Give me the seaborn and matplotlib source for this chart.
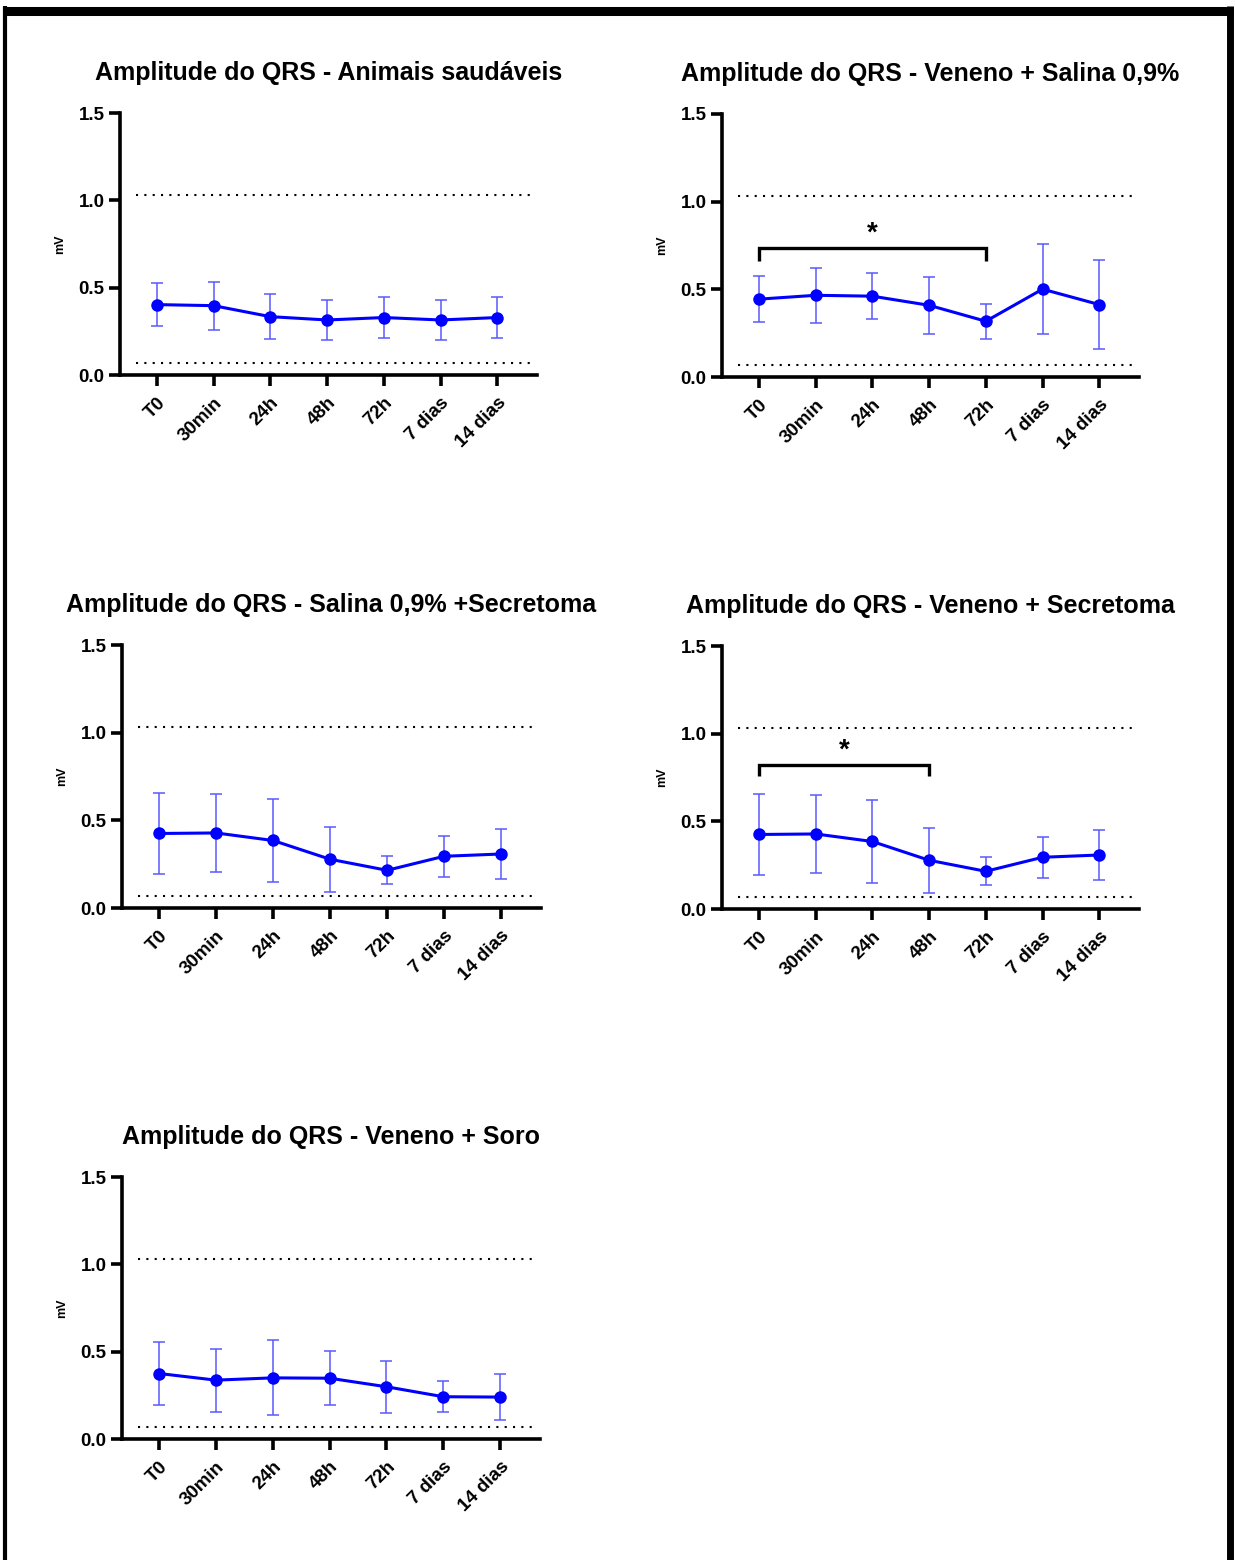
import matplotlib
matplotlib.use('Agg')
import matplotlib.pyplot as plt
import seaborn as sns
import pandas as pd
from matplotlib.lines import Line2D

# --- DATA ---
tempos = ['T0', '30min', '24h', '48h', '72h', '7 dias', '14 dias']

saudaveis_media = [0.403, 0.397, 0.334, 0.315, 0.329, 0.315, 0.329]
saudaveis_dp = [0.121, 0.137, 0.127, 0.112, 0.116, 0.112, 0.116]

veneno_salina_media = [0.444, 0.466, 0.461, 0.409, 0.318, 0.501, 0.413]
veneno_salina_dp = [0.130, 0.157, 0.130, 0.162, 0.099, 0.256, 0.256]

salina_secretoma_media = [0.425, 0.428, 0.385, 0.278, 0.215, 0.295, 0.308]
salina_secretoma_dp = [0.232, 0.225, 0.235, 0.184, 0.079, 0.118, 0.140]

veneno_secretoma_media = [0.425, 0.428, 0.385, 0.278, 0.215, 0.295, 0.308]
veneno_secretoma_dp = [0.232, 0.225, 0.235, 0.184, 0.079, 0.118, 0.140]

veneno_soro_media = [0.375, 0.337, 0.350, 0.348, 0.299, 0.242, 0.240]
veneno_soro_dp = [0.180, 0.180, 0.214, 0.155, 0.148, 0.090, 0.130]

titulos = [
    'Amplitude do QRS - Animais saudáveis',
    'Amplitude do QRS - Veneno + Salina 0,9%',
    'Amplitude do QRS - Salina 0,9% +Secretoma',
    'Amplitude do QRS - Veneno + Secretoma',
    'Amplitude do QRS - Veneno + Soro',
]

# reference band (dotted lines)
limite_superior = 1.03
limite_inferior = 0.07

# significance brackets: panel index -> (start idx, end idx, bar height, drop)
brackets = {1: (0, 4, 0.737, 0.66), 3: (0, 3, 0.822, 0.756)}
# ---------------------------------

sns.set_theme(style='white')
plt.rcParams['font.family'] = ['Liberation Sans', 'DejaVu Sans']
plt.rcParams['font.weight'] = 'bold'
plt.rcParams.update({'text.color': 'black', 'axes.labelcolor': 'black',
                     'xtick.color': 'black', 'ytick.color': 'black'})

W, H = 1235, 1560
fig = plt.figure(figsize=(W / 100, H / 100), dpi=100)


def px_axes(left, right, y0, y15):
    return fig.add_axes([left / W, 1 - y0 / H, (right - left) / W, (y0 - y15) / H])


caixas = [
    (120, 537, 375, 113),
    (722, 1139, 377, 114),
    (122, 541, 908, 645),
    (722, 1139, 909, 646),
    (122, 540, 1439, 1177),
]
grupos = [
    (saudaveis_media, saudaveis_dp),
    (veneno_salina_media, veneno_salina_dp),
    (salina_secretoma_media, salina_secretoma_dp),
    (veneno_secretoma_media, veneno_secretoma_dp),
    (veneno_soro_media, veneno_soro_dp),
]

for i, (caixa, (media, dp), titulo) in enumerate(zip(caixas, grupos, titulos)):
    ax = px_axes(*caixa)
    df = pd.DataFrame({'tempo': tempos, 'media': media, 'dp': dp})
    pos = list(range(len(tempos)))

    ax.errorbar(pos, df['media'], yerr=df['dp'], fmt='none', ecolor='#5a5aff',
                elinewidth=1.1, capsize=4.5, capthick=1.1, zorder=2)
    sns.lineplot(data=df, x='tempo', y='media', ax=ax, color='#0000ff',
                 marker='o', markersize=9, markeredgewidth=0, linewidth=2.2,
                 sort=False, zorder=3)

    ax.hlines([limite_superior, limite_inferior], -0.37, 6.62, colors='black',
              linestyles=(0, (1, 3)), linewidth=1.5, zorder=1)

    if i in brackets:
        a, b, yb, yd = brackets[i]
        ax.plot([a, a, b, b], [yd, yb, yb, yd], color='black', linewidth=2.4,
                solid_capstyle='butt', solid_joinstyle='miter', zorder=4)
        ax.text((a + b) / 2, yb + 0.008, '*', ha='center', va='bottom',
                fontsize=20, fontweight='bold', color='black')

    ax.set_xlim(-0.65, 6.7)
    ax.set_ylim(0, 1.5)
    ax.set_yticks([0, 0.5, 1.0, 1.5])
    ax.set_yticklabels(['0.0', '0.5', '1.0', '1.5'])
    ax.set_xticks(pos)
    ax.set_xticklabels(tempos, rotation=45, ha='right', va='top',
                       rotation_mode='anchor')
    ax.set_xlabel('')
    ax.set_ylabel('mV', fontsize=9, fontweight='bold', labelpad=9)
    ax.set_title(titulo, fontsize=18, fontweight='bold', pad=24, color='black')

    sns.despine(ax=ax)
    for s in ['left', 'bottom']:
        ax.spines[s].set_linewidth(2.6)
        ax.spines[s].set_color('black')
    ax.tick_params(axis='both', direction='out', length=8, width=2.6,
                   color='black', labelcolor='black', labelsize=13.5, pad=3,
                   left=True, bottom=True)
    ax.tick_params(axis='x', pad=6)
    for lbl in ax.get_xticklabels() + ax.get_yticklabels():
        lbl.set_fontweight('bold')
    ax.patch.set_alpha(0)

# black frame around the figure (top, left, right; open at the bottom)
quadro = [
    ((3 / W, 1233 / W), (1 - 10.5 / H, 1 - 10.5 / H), 6.5),
    ((5 / W, 5 / W), (0, 1 - 6 / H), 3.0),
    ((1229.5 / W, 1229.5 / W), (0, 1 - 6 / H), 5.0),
]
for xs, ys, lw in quadro:
    fig.lines.append(Line2D(xs, ys, transform=fig.transFigure, color='black',
                            linewidth=lw, solid_capstyle='butt'))

fig.savefig('out.png', dpi=100, facecolor='white')
